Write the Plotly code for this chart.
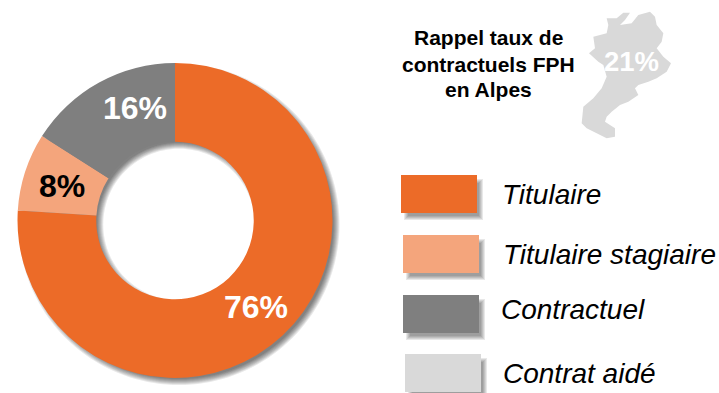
import math
import plotly.graph_objects as go

W, H = 719, 393
categories = ["Titulaire", "Titulaire stagiaire", "Contractuel", "Contrat aidé"]
values = [76, 8, 16, 0]
colors = ["#EC6B28", "#F4A57C", "#7F7F7F", "#D9D9D9"]
title_lines = ["Rappel taux de", "contractuels FPH", "en Alpes"]
reminder_value = 21

FONT = "Liberation Sans, Arial, sans-serif"

CX, CY, R_OUT, R_IN = 175, 220.5, 157.5, 78.75


def px(x):
    return x / W


def py(y):
    return 1 - y / H


def poly_path(points):
    return "M" + " L".join(f"{px(x):.5f},{py(y):.5f}" for x, y in points) + " Z"


def circle(cx, cy, r, n=120):
    return [(cx + r * math.cos(2 * math.pi * i / n), cy + r * math.sin(2 * math.pi * i / n)) for i in range(n)]


shapes = []

# soft drop shadow behind the ring: visible through the hole and past the outer edge
for grow in range(7):
    shapes.append(dict(
        type="path", xref="paper", yref="paper", layer="below", line_width=0,
        fillcolor="rgba(0,0,0,0.09)",
        path=poly_path(circle(CX + 4, CY + 4, R_OUT - 3 + grow, 160))
        + " " + poly_path(circle(CX + 4, CY + 4, R_IN + 3 - grow, 120)),
    ))

# legend swatches with blurred shadow
swatches = [(401, 175), (403, 235), (403, 295), (405, 354)]
SW, SH = 76, 38
for (x0, y0), col in zip(swatches, colors):
    for g in range(4, -1, -1):
        shapes.append(dict(
            type="rect", xref="paper", yref="paper", line_width=0,
            fillcolor="rgba(0,0,0,0.09)",
            x0=px(x0 + 7 - g), x1=px(x0 + SW + 2 + g),
            y0=py(y0 + 8 - g), y1=py(y0 + SH + 3 + g),
        ))
    shapes.append(dict(
        type="rect", xref="paper", yref="paper", line_width=0, fillcolor=col,
        x0=px(x0), x1=px(x0 + SW), y0=py(y0), y1=py(y0 + SH),
    ))

# region silhouette (decorative)
zoom_outline = [(650, 55), (680, 55), (700, 38), (720, 38), (705, 60), (690, 75), (725, 70), (745, 45),
                (780, 35), (795, 50), (800, 75), (820, 100), (815, 125), (800, 145), (820, 170), (843, 190),
                (830, 215), (800, 235), (775, 245), (745, 255), (735, 265), (745, 285), (715, 305), (690, 315),
                (665, 335), (650, 350), (645, 365), (675, 385), (675, 410), (650, 415), (620, 400), (590, 385),
                (575, 370), (580, 320), (610, 295), (635, 265), (650, 230), (640, 195), (625, 185), (597, 160),
                (615, 145), (610, 110), (650, 100), (655, 75)]
shapes.append(dict(
    type="path", xref="paper", yref="paper", line_width=0, fillcolor="#D9D9D9",
    path=poly_path([(390 + x / 3, y / 3) for x, y in zoom_outline]),
))

annotations = []


def text(x, y, s, size, color="#000000", bold=False, italic=False, anchor="center"):
    if bold:
        s = f"<b>{s}</b>"
    if italic:
        s = f"<i>{s}</i>"
    annotations.append(dict(
        x=px(x), y=py(y), xref="paper", yref="paper", text=s, showarrow=False,
        xanchor=anchor, yanchor="middle", align=anchor,
        xshift=-3 if anchor == "left" else 0,
        font=dict(family=FONT, size=size, color=color),
    ))


# slice labels
text(256, 307, f"{values[0]}%", 32, "#FFFFFF", bold=True)
text(62, 186, f"{values[1]}%", 32, "#000000", bold=True)
text(135, 108, f"{values[2]}%", 32, "#FFFFFF", bold=True)

# reminder block
for y, line in zip([38, 64, 90], title_lines):
    text(489, y, line, 21, bold=True)
text(631, 61, f"{reminder_value}%", 27.5, "#FFFFFF", bold=True)

# legend labels
for (x, y), name in zip([(503, 194), (504, 254), (502, 309), (504, 373)], categories):
    text(x, y, name, 28, italic=True, anchor="left")

fig = go.Figure(go.Pie(
    labels=categories,
    values=values,
    hole=0.5,
    sort=False,
    direction="clockwise",
    rotation=0,
    marker=dict(colors=colors, line=dict(width=0)),
    textinfo="none",
    hoverinfo="label+percent",
    showlegend=False,
    domain=dict(x=[(CX - R_OUT) / W, (CX + R_OUT) / W], y=[1 - (CY + R_OUT) / H, 1 - (CY - R_OUT) / H]),
))
fig.update_layout(
    width=W, height=H, margin=dict(l=0, r=0, t=0, b=0),
    paper_bgcolor="#FFFFFF", plot_bgcolor="#FFFFFF",
    shapes=shapes, annotations=annotations,
)
fig.write_html(
    "out.html",
    config=dict(displayModeBar=False),
    post_script="document.body.style.margin='0';document.body.style.overflow='hidden';",
)
